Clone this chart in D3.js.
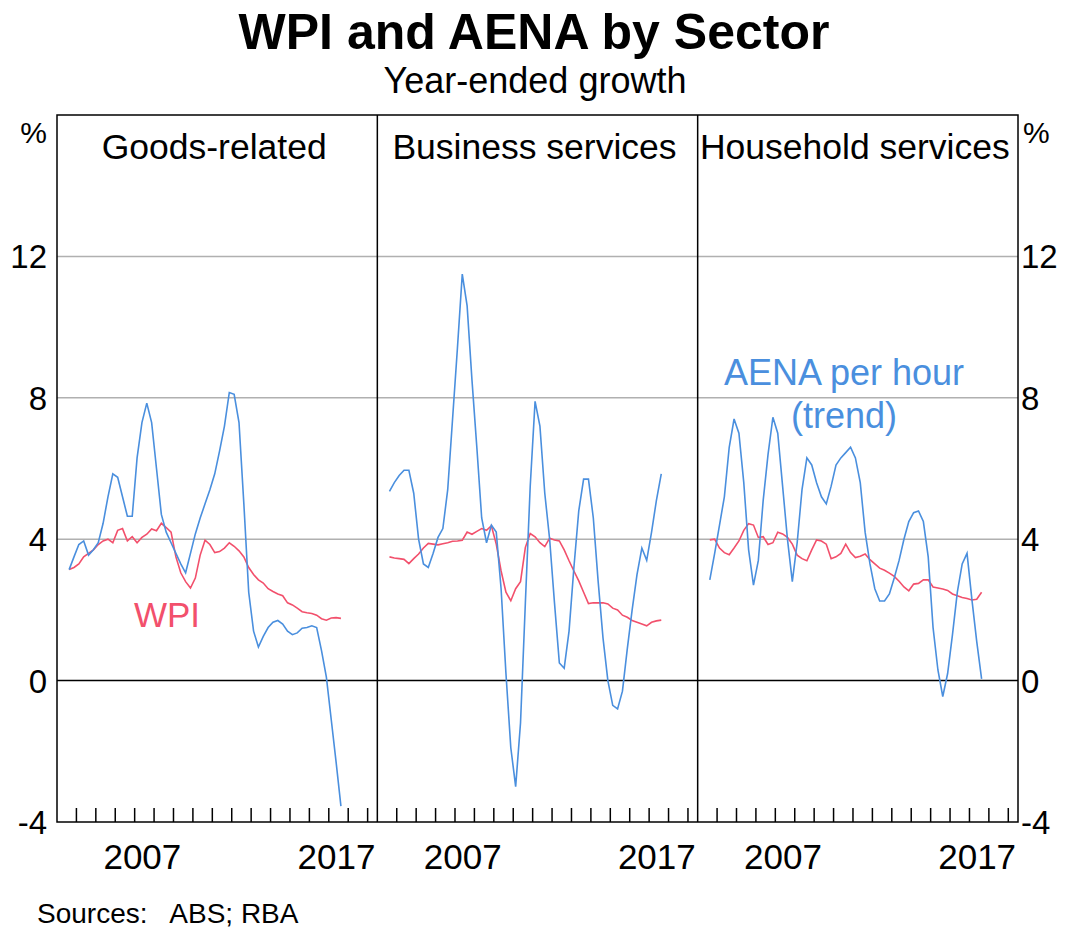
<!DOCTYPE html>
<html>
<head>
<meta charset="utf-8">
<script src="https://cdn.jsdelivr.net/npm/d3@7"></script>
<style>
  body { margin: 0; background: #fff; }
  text { font-family: "Liberation Sans", Arial, sans-serif; }
</style>
</head>
<body>
<div id="chart"></div>
<script>
// quarterly observations, Sep 2003 to Sep 2017
const firstQuarter = 2003.625;

const panels = ["Goods-related", "Business services", "Household services"];

const aenaGoods = [3.14, 3.5, 3.85, 3.95, 3.55, 3.7, 3.9, 4.45, 5.2, 5.85, 5.75, 5.2, 4.65, 4.65, 6.3,
  7.3, 7.85, 7.3, 6.0, 4.7, 4.2, 3.9, 3.6, 3.3, 3.05, 3.6, 4.15, 4.6, 5.0, 5.4, 5.85, 6.5, 7.2, 8.15,
  8.1, 7.3, 5.0, 2.5, 1.4, 0.95, 1.25, 1.5, 1.65, 1.7, 1.6, 1.4, 1.3, 1.35, 1.48, 1.5, 1.55, 1.5,
  0.85, 0.1, -1.1, -2.3, -3.55];
const wpiGoods = [3.14, 3.2, 3.3, 3.5, 3.6, 3.7, 3.85, 3.95, 4.0, 3.9, 4.25, 4.3, 3.95, 4.07, 3.9,
  4.05, 4.14, 4.29, 4.24, 4.45, 4.33, 4.2, 3.5, 3.05, 2.8, 2.62, 2.9, 3.55, 3.97, 3.85, 3.62, 3.65,
  3.75, 3.9, 3.8, 3.67, 3.5, 3.2, 3.0, 2.85, 2.76, 2.6, 2.52, 2.45, 2.4, 2.2, 2.14, 2.05, 1.95, 1.92,
  1.9, 1.85, 1.75, 1.71, 1.77, 1.78, 1.76];

const aenaBusiness = [5.35, 5.6, 5.8, 5.95, 5.95, 5.3, 4.0, 3.3, 3.2, 3.6, 4.05, 4.3, 5.4, 7.4, 9.4,
  11.5, 10.6, 8.5, 6.6, 4.6, 3.9, 4.4, 4.2, 2.6, 0.2, -1.9, -3.0, -1.2, 2.2, 5.5, 7.9, 7.2, 5.3, 4.0,
  2.2, 0.5, 0.35, 1.4, 3.2, 4.8, 5.7, 5.7, 4.6, 2.8, 1.2, 0.0, -0.7, -0.8, -0.3, 0.9, 2.0, 3.0, 3.75,
  3.4, 4.2, 5.1, 5.85];
const wpiBusiness = [3.5, 3.47, 3.45, 3.43, 3.31, 3.45, 3.58, 3.75, 3.88, 3.86, 3.84, 3.87, 3.9, 3.94,
  3.95, 3.97, 4.2, 4.14, 4.22, 4.3, 4.25, 4.38, 3.86, 3.1, 2.5, 2.26, 2.6, 2.8, 3.77, 4.16, 4.07, 3.9,
  3.79, 4.03, 3.98, 3.95, 3.7, 3.39, 3.1, 2.82, 2.5, 2.18, 2.2, 2.2, 2.2, 2.17, 2.05, 2.0, 1.85, 1.79,
  1.7, 1.65, 1.6, 1.55, 1.65, 1.69, 1.71];

const aenaHousehold = [2.85, 3.6, 4.4, 5.2, 6.6, 7.4, 7.0, 5.6, 3.7, 2.7, 3.4, 5.1, 6.4, 7.45, 7.0,
  5.5, 4.0, 2.8, 3.9, 5.4, 6.3, 6.1, 5.6, 5.2, 5.0, 5.5, 6.1, 6.3, 6.45, 6.6, 6.3, 5.6, 4.2, 3.3, 2.6,
  2.25, 2.25, 2.45, 2.9, 3.4, 4.0, 4.5, 4.75, 4.8, 4.5, 3.5, 1.5, 0.3, -0.45, 0.2, 1.3, 2.5, 3.3, 3.6,
  2.3, 1.1, 0.05];
const wpiHousehold = [3.98, 4.0, 3.75, 3.62, 3.56, 3.75, 3.95, 4.25, 4.44, 4.4, 4.05, 4.07, 3.85, 3.9,
  4.2, 4.15, 4.05, 3.86, 3.55, 3.45, 3.39, 3.7, 3.98, 3.95, 3.86, 3.45, 3.5, 3.6, 3.86, 3.62, 3.48,
  3.52, 3.58, 3.42, 3.3, 3.18, 3.12, 3.04, 2.95, 2.81, 2.65, 2.54, 2.73, 2.75, 2.85, 2.85, 2.65, 2.62,
  2.59, 2.55, 2.45, 2.4, 2.35, 2.32, 2.28, 2.3, 2.5];

const aenaSeries = [aenaGoods, aenaBusiness, aenaHousehold];
const wpiSeries = [wpiGoods, wpiBusiness, wpiHousehold];

const yTicks = [-4, 0, 4, 8, 12];
const gridValues = [4, 8, 12];
const yearTicks = d3.range(2004, 2020);
const yearLabels = [2007, 2017];

const blue = "#4a8fde";
const red = "#f2506c";

const width = 1065;
const height = 928;
const plot = { left: 57, right: 1018, top: 115, bottom: 822 };
const panelWidth = (plot.right - plot.left) / panels.length;

const svg = d3.select("#chart")
  .append("svg")
  .attr("width", width)
  .attr("height", height);

const yScale = d3.scaleLinear().domain([-4, 16]).range([plot.bottom, plot.top]);

// titles
svg.append("text")
  .attr("x", 534).attr("y", 49)
  .attr("text-anchor", "middle")
  .style("font-size", "50px").style("font-weight", "bold")
  .text("WPI and AENA by Sector");

svg.append("text")
  .attr("x", 535).attr("y", 93)
  .attr("text-anchor", "middle")
  .style("font-size", "36px")
  .text("Year-ended growth");

// gridlines
svg.append("g")
  .selectAll("line")
  .data(gridValues)
  .join("line")
  .attr("x1", plot.left).attr("x2", plot.right)
  .attr("y1", (d) => yScale(d)).attr("y2", (d) => yScale(d))
  .style("stroke", "#b0b0b0")
  .style("stroke-width", 1.5);

// zero line
svg.append("line")
  .attr("x1", plot.left).attr("x2", plot.right)
  .attr("y1", yScale(0)).attr("y2", yScale(0))
  .style("stroke", "#000")
  .style("stroke-width", 1.5);

const line = (xScale) => d3.line()
  .x((d, i) => xScale(firstQuarter + i * 0.25))
  .y((d) => yScale(d));

panels.forEach((name, p) => {
  const left = plot.left + p * panelWidth;
  const xScale = d3.scaleLinear().domain([2003, 2019.5]).range([left, left + panelWidth]);
  const g = svg.append("g");

  g.append("text")
    .attr("x", left + panelWidth / 2 - 3).attr("y", 159)
    .attr("text-anchor", "middle")
    .style("font-size", "35.5px")
    .text(name);

  g.append("path")
    .datum(wpiSeries[p])
    .attr("d", line(xScale))
    .style("fill", "none")
    .style("stroke", red)
    .style("stroke-width", 1.6);

  g.append("path")
    .datum(aenaSeries[p])
    .attr("d", line(xScale))
    .style("fill", "none")
    .style("stroke", blue)
    .style("stroke-width", 1.6);

  g.selectAll(".tick")
    .data(yearTicks)
    .join("line")
    .attr("x1", (d) => xScale(d)).attr("x2", (d) => xScale(d))
    .attr("y1", plot.bottom).attr("y2", plot.bottom - 14)
    .style("stroke", "#000")
    .style("stroke-width", 1.5);

  g.selectAll(".year")
    .data(yearLabels)
    .join("text")
    .attr("x", (d) => xScale(d + 0.5) - 2).attr("y", 869)
    .attr("text-anchor", "middle")
    .style("font-size", "35px")
    .text((d) => d);

  if (p > 0) {
    g.append("line")
      .attr("x1", left).attr("x2", left)
      .attr("y1", plot.top).attr("y2", plot.bottom)
      .style("stroke", "#000")
      .style("stroke-width", 1.5);
  }
});

// frame
svg.append("rect")
  .attr("x", plot.left).attr("y", plot.top)
  .attr("width", plot.right - plot.left).attr("height", plot.bottom - plot.top)
  .style("fill", "none")
  .style("stroke", "#000")
  .style("stroke-width", 1.5);

// y axis labels both sides
const yLabels = svg.append("g").style("font-size", "33px");
yLabels.selectAll(".l")
  .data(yTicks)
  .join("text")
  .attr("x", 47).attr("y", (d) => yScale(d) + 12)
  .attr("text-anchor", "end")
  .text((d) => d);
yLabels.selectAll(".r")
  .data(yTicks)
  .join("text")
  .attr("x", 1021).attr("y", (d) => yScale(d) + 12)
  .attr("text-anchor", "start")
  .text((d) => d);
yLabels.append("text").attr("x", 47).attr("y", 143).attr("text-anchor", "end")
  .style("font-size", "30px").text("%");
yLabels.append("text").attr("x", 1023).attr("y", 143).attr("text-anchor", "start")
  .style("font-size", "30px").text("%");

// series labels
svg.append("text")
  .attr("x", 167).attr("y", 627)
  .attr("text-anchor", "middle")
  .style("font-size", "35px")
  .style("fill", red)
  .text("WPI");

svg.append("text")
  .attr("x", 844).attr("y", 385)
  .attr("text-anchor", "middle")
  .style("font-size", "36px")
  .style("fill", blue)
  .text("AENA per hour");
svg.append("text")
  .attr("x", 844).attr("y", 428)
  .attr("text-anchor", "middle")
  .style("font-size", "36px")
  .style("fill", blue)
  .text("(trend)");

svg.append("text")
  .attr("x", 37).attr("y", 923)
  .style("font-size", "28px")
  .attr("xml:space", "preserve")
  .style("white-space", "pre")
  .text("Sources:   ABS; RBA");
</script>
</body>
</html>
